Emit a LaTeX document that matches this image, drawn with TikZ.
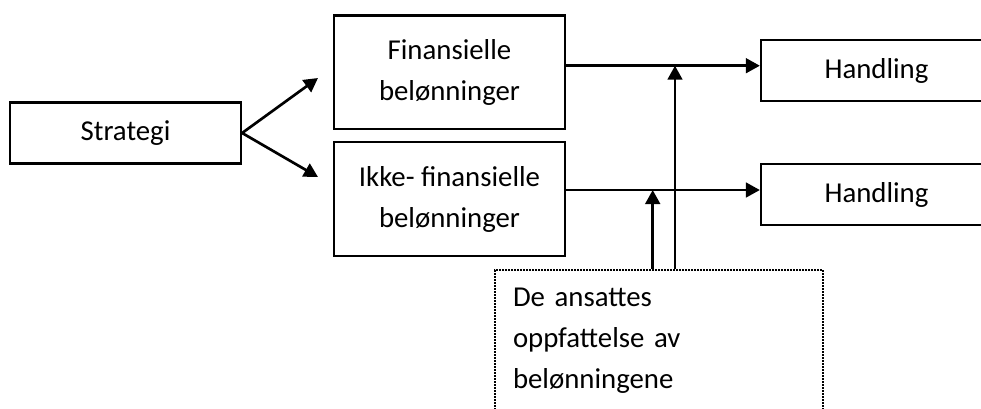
\documentclass[tikz,border=0pt]{standalone}
\usepackage{fontspec}
\setmainfont{Carlito}
\usetikzlibrary{arrows.meta}

\begin{document}
\begin{tikzpicture}[x=0.75pt, y=-0.75pt,
  every node/.style={font=\fontsize{21.6}{30.75}\selectfont},
  boks/.style={draw, line width=1.7pt, inner sep=0pt, minimum width=173.25pt, align=center},
  prikkboks/.style={draw, line width=1.8pt, dash pattern=on 1.3pt off 0.95pt, inner xsep=13.5pt,
    text width=219pt, minimum height=106.5pt, align=left},
  pil/.style={line width=2pt, -{Triangle[length=10.5pt,width=11pt]}}]
  \clip (0,0) rectangle (981,408);
  % Strategi
  \node[boks, minimum height=45.75pt] (strat) at (125.5,133) {Strategi};
  % Beloenninger
  \node[boks, minimum height=85.1pt] (fin) at (449.5,72.3) {Finansielle\\belønninger};
  \node[boks, minimum height=85.1pt] (ikke) at (449.5,199) {Ikke- finansielle\\belønninger};
  % Handling
  \node[boks, minimum height=45.75pt] (hand1) at (876.5,70.5) {Handling};
  \node[boks, minimum height=45.75pt] (hand2) at (876.5,194.6) {Handling};
  % Oppfattelse
  \node[prikkboks] (opp) at (659,341) {De ansattes\\oppfattelse av\\belønningene};
  % Koordinater
  \coordinate (p1) at (318,78);
  \coordinate (p2) at (318,177);
  \coordinate (k1) at (675,65.7);
  \coordinate (k2) at (652.7,190);
  % Piler
  \draw[pil] (strat.east) -- (p1);
  \draw[pil] (strat.east) -- (p2);
  \draw[pil] (fin.east |- k1) -- (hand1.west |- k1);
  \draw[pil] (ikke.east |- k2) -- (hand2.west |- k2);
  \draw[pil] (opp.north -| k1) -- (k1);
  \draw[pil] (opp.north -| k2) -- (k2);
\end{tikzpicture}
\end{document}
